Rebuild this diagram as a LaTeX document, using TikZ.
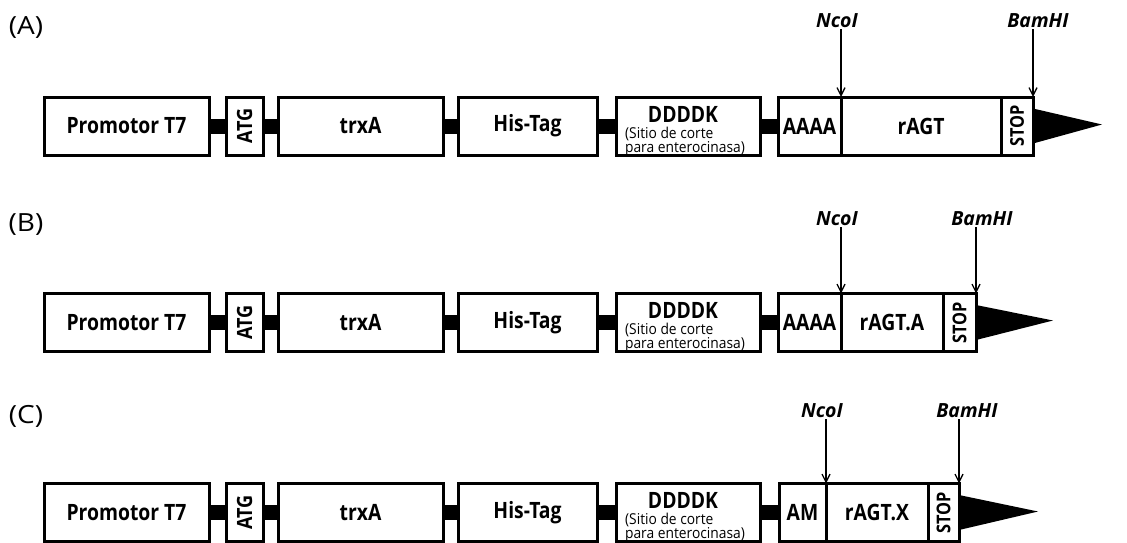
\documentclass[tikz,border=0pt]{standalone}
\usepackage{fontspec}
\setmainfont{Open Sans}[FakeStretch=0.86]
\newfontfamily\sitefont{Open Sans}
\newfontfamily\tagfont{Open Sans}[FakeStretch=1.12]
\newfontfamily\subfont{Open Sans}[FakeStretch=0.92]
\usepackage{graphicx}
\usetikzlibrary{arrows.meta}
\newcommand\fs[1]{\fontsize{#1}{#1}\selectfont}
\tikzset{
  seg/.style={draw=black, line width=3pt, fill=white, inner sep=0pt, outer sep=0pt,
              minimum height=58pt, font=\fs{22.5}\bfseries},
  link/.style={line width=15pt, draw=black},
  site/.style={font=\sitefont\fs{19.5}\bfseries\itshape, inner sep=1pt},
  cut/.style={-{Straight Barb[length=8pt,width=8pt]}, line width=1.3pt},
  tag/.style={font=\tagfont\fs{25}},
  flag/.style={fill=black},
  ddtitle/.style={font=\fs{22.5}\bfseries, inner sep=0pt, text depth=0pt, anchor=base},
  ddsub/.style={font=\subfont\fontsize{15}{8.3}\selectfont, align=left, inner sep=0pt, anchor=north},
}
% \seg{name}{x1}{x2}{y}{text}
\newcommand\seg[5]{\node[seg, minimum width={#3-#2}] (#1) at ({(#2+#3)/2},#4) {#5};}
% common left part of a row: suffix, y centre
\newcommand\commonrow[2]{%
  \seg{pro#1}{44}{209}{#2}{Promotor T7}
  \seg{atg#1}{226}{263}{#2}{\rotatebox{90}{\fs{21}ATG}}
  \seg{trx#1}{278}{443}{#2}{trxA}
  \seg{his#1}{458}{597}{#2}{His-Tag}
  \seg{dd#1}{616}{760}{#2}{}
  \node[ddtitle] (ddt#1) at ([xshift=-5pt,yshift=4pt]dd#1.center) {DDDDK};
  \node[ddsub] (dds#1) at ([xshift=-3pt,yshift=-0.5pt]dd#1.center) {(Sitio de corte\\para enterocinasa)};
  \draw[link] (pro#1.east) -- (atg#1.west);
  \draw[link] (atg#1.east) -- (trx#1.west);
  \draw[link] (trx#1.east) -- (his#1.west);
  \draw[link] (his#1.east) -- (dd#1.west);
}
\begin{document}
\begin{tikzpicture}[x=1pt,y=-1pt]
\useasboundingbox (0,0) rectangle (1127,542);

% ---------- (A) ----------
\node[tag] (labA) at (26,28) {(A)};
\commonrow{A}{126}
\seg{aaA}{778}{841}{126}{AAAA}
\seg{ragtA}{841}{1001}{126}{rAGT}
\seg{stopA}{1001}{1033}{126}{\rotatebox{90}{\fs{19}STOP}}
\draw[link] (ddA.east) -- (aaA.west);
\coordinate (tipA) at (1102,124.5);
\fill[flag] ([yshift=17.5pt]stopA.east) -- (tipA) -- ([yshift=-17.5pt]stopA.east) -- cycle;
\node[site] (ncoA) at (837,21) {NcoI};
\node[site] (bamA) at (1038,21) {BamHI};
\draw[cut] (ncoA.south -| ragtA.north west) -- (ragtA.north west);
\draw[cut] (bamA.south -| stopA.north east) -- (stopA.north east);

% ---------- (B) ----------
\node[tag] (labB) at (26,225) {(B)};
\commonrow{B}{322.5}
\seg{aaB}{778}{841}{322.5}{AAAA}
\seg{ragtB}{841}{943}{322.5}{rAGT.A}
\seg{stopB}{943}{976}{322.5}{\rotatebox{90}{\fs{19}STOP}}
\draw[link] (ddB.east) -- (aaB.west);
\coordinate (tipB) at (1053,320.5);
\fill[flag] ([yshift=17.5pt]stopB.east) -- (tipB) -- ([yshift=-17.5pt]stopB.east) -- cycle;
\node[site] (ncoB) at (837,219) {NcoI};
\node[site] (bamB) at (982,219) {BamHI};
\draw[cut] (ncoB.south -| ragtB.north west) -- (ragtB.north west);
\draw[cut] (bamB.south -| stopB.north east) -- (stopB.north east);

% ---------- (C) ----------
\node[tag] (labC) at (26,416) {(C)};
\commonrow{C}{512.5}
\seg{amC}{779}{826}{512.5}{AM}
\seg{ragtC}{826}{928}{512.5}{rAGT.X}
\seg{stopC}{928}{959}{512.5}{\rotatebox{90}{\fs{19}STOP}}
\draw[link] (ddC.east) -- (amC.west);
\coordinate (tipC) at (1038,511.5);
\fill[flag] ([yshift=17.5pt]stopC.east) -- (tipC) -- ([yshift=-17.5pt]stopC.east) -- cycle;
\node[site] (ncoC) at (822,411) {NcoI};
\node[site] (bamC) at (967,411) {BamHI};
\draw[cut] (ncoC.south -| ragtC.north west) -- (ragtC.north west);
\draw[cut] (bamC.south -| stopC.north east) -- (stopC.north east);
\end{tikzpicture}
\end{document}
